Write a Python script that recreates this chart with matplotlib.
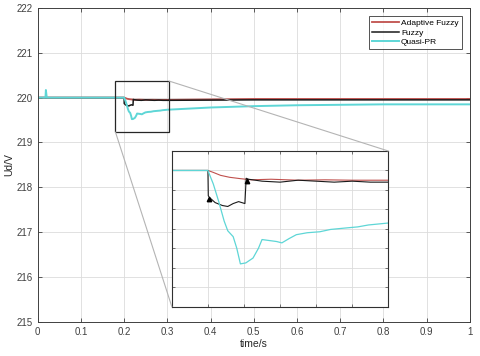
import numpy as np
import matplotlib
matplotlib.use('Agg')
from matplotlib import pyplot as plt
from matplotlib.patches import Rectangle, ConnectionPatch

# Datos
t_af = [0, 0.2, 0.203, 0.207, 0.212, 0.218, 0.224, 0.235, 0.25, 0.265, 0.28, 0.3, 0.5, 0.8, 1.0]
u_af = [220.0, 220.0, 219.99, 219.975, 219.965, 219.958, 219.952, 219.955, 219.95, 219.952, 219.95, 219.95, 219.97, 219.97, 219.97]

t_fz = [0, 0.2, 0.2002, 0.201, 0.204, 0.208, 0.211, 0.214, 0.217, 0.2205, 0.2212, 0.2225, 0.23, 0.24, 0.25, 0.26, 0.27, 0.28, 0.29, 0.3, 0.5, 0.8, 1.0]
u_fz = [220.0, 220.0, 219.87, 219.86, 219.835, 219.82, 219.815, 219.83, 219.84, 219.83, 219.96, 219.955, 219.945, 219.94, 219.95, 219.945, 219.94, 219.945, 219.94, 219.94, 219.95, 219.95, 219.95]

t_qpr = [0, 0.018, 0.019, 0.021, 0.2, 0.203, 0.206, 0.209, 0.211, 0.214, 0.216, 0.218, 0.221, 0.225, 0.228, 0.23, 0.234, 0.238, 0.241, 0.245, 0.249, 0.255, 0.262, 0.268, 0.277, 0.283, 0.289, 0.3, 0.4, 0.5, 0.6, 0.7, 0.8, 1.0]
u_qpr = [220.0, 220.0, 220.17, 220.0, 220.0, 219.93, 219.84, 219.74, 219.69, 219.66, 219.6, 219.52, 219.525, 219.55, 219.6, 219.645, 219.64, 219.635, 219.628, 219.65, 219.67, 219.68, 219.685, 219.697, 219.705, 219.71, 219.72, 219.73, 219.78, 219.81, 219.83, 219.84, 219.85, 219.85]

xticks = [0, 0.1, 0.2, 0.3, 0.4, 0.5, 0.6, 0.7, 0.8, 0.9, 1]
xlabels = ['0', '0.1', '0.2', '0.3', '0.4', '0.5', '0.6', '0.7', '0.8', '0.9', '1']
yticks = [215, 216, 217, 218, 219, 220, 221, 222]

c_af = '#c0504d'
c_fz = '#1a1a1a'
c_qpr = '#5ed6d6'

plt.rcParams['font.family'] = ['Arial', 'Liberation Sans', 'DejaVu Sans']

fig = plt.figure(figsize=(4.8, 3.56), dpi=100)
ax = fig.add_axes([0.0785, 0.0964, 0.9005, 0.8811])

ax.plot(t_af, u_af, color=c_af, lw=1.3, label='Adaptive Fuzzy')
ax.plot(t_fz, u_fz, color=c_fz, lw=1.1, label='Fuzzy')
ax.plot(t_qpr, u_qpr, color=c_qpr, lw=1.4, label='Quasi-PR')

ax.set_xlim(0, 1)
ax.set_ylim(215, 222)
ax.set_xticks(xticks)
ax.set_xticklabels(xlabels)
ax.set_yticks(yticks)
ax.grid(True, color='#dcdcdc', lw=0.6)
ax.tick_params(direction='in', top=True, right=True, labelsize=7, colors='#404040', length=3, width=0.6)
for s in ax.spines.values():
    s.set_color('#404040')
    s.set_linewidth(0.7)
ax.set_xlabel('time/s', fontsize=7.5, color='#262626', labelpad=2)
ax.set_ylabel('Ud/V', fontsize=7.5, color='#262626', labelpad=2)

leg = ax.legend(loc='upper right', fontsize=6, frameon=True, fancybox=False,
                edgecolor='#262626', handlelength=3.2, handletextpad=0.3,
                borderpad=0.35, labelspacing=0.2, borderaxespad=1.0)
leg.get_frame().set_linewidth(0.7)

# rectangulo de zoom
ax.add_patch(Rectangle((0.18, 219.23), 0.124, 1.14, fill=False, ec='#262626', lw=0.9, zorder=5))

# grafico ampliado
axi = fig.add_axes([0.358, 0.1385, 0.451, 0.4373])
axi.plot(t_af, u_af, color=c_af, lw=0.8)
axi.plot(t_fz, u_fz, color=c_fz, lw=0.8)
axi.plot(t_qpr, u_qpr, color=c_qpr, lw=0.9)
axi.plot([0.2008, 0.2218], [219.855, 219.945], ls='none', marker='^', ms=3.2, color='k')
axi.set_xlim(0.18, 0.30)
axi.set_ylim(219.3, 220.1)
axi.set_xticks(np.arange(0.18, 0.3001, 0.02))
axi.set_yticks(np.arange(219.3, 220.1001, 0.1))
axi.set_xticklabels([])
axi.set_yticklabels([])
axi.grid(True, color='#dcdcdc', lw=0.6)
axi.tick_params(direction='in', top=True, right=True, length=2.5, width=0.5, colors='#404040')
for s in axi.spines.values():
    s.set_color('#303030')
    s.set_linewidth(0.8)

# lineas de conexion
con1 = ConnectionPatch(xyA=(0.304, 220.37), coordsA=ax.transData,
                       xyB=(1, 1), coordsB=axi.transAxes, color='#b4b4b4', lw=0.8)
con2 = ConnectionPatch(xyA=(0.18, 219.23), coordsA=ax.transData,
                       xyB=(0, 0), coordsB=axi.transAxes, color='#b4b4b4', lw=0.8)
fig.add_artist(con1)
fig.add_artist(con2)

fig.savefig('out.png', dpi=100)
